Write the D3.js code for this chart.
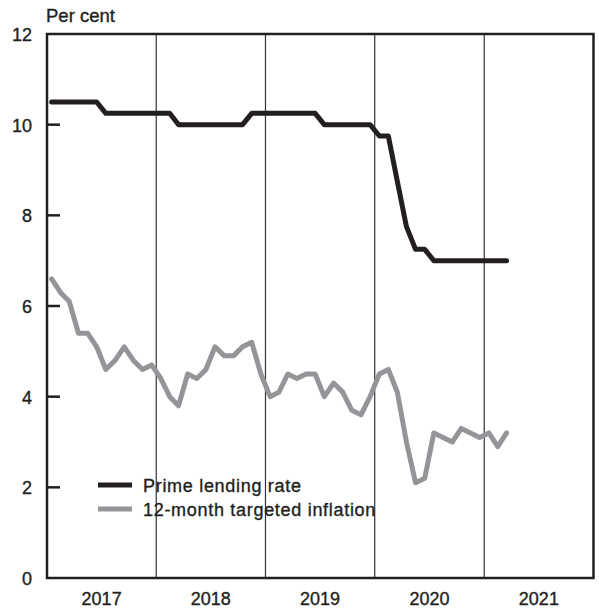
<!DOCTYPE html>
<html>
<head>
<meta charset="utf-8">
<script src="https://cdn.jsdelivr.net/npm/d3@7"></script>
<style>
  body { margin: 0; background: #fff; }
  text { font-family: "Liberation Sans", Arial, sans-serif; fill: #231f20; stroke: #231f20; stroke-width: 0.35px; }
</style>
</head>
<body>
<div id="graphic"></div>
<script>
// monthly values, Jan 2017 - Mar 2021
var startMonth = "2017-01";
var primeRate = [
  10.5, 10.5, 10.5, 10.5, 10.5, 10.5, 10.25, 10.25, 10.25, 10.25, 10.25, 10.25,
  10.25, 10.25, 10.0, 10.0, 10.0, 10.0, 10.0, 10.0, 10.0, 10.0, 10.25, 10.25,
  10.25, 10.25, 10.25, 10.25, 10.25, 10.25, 10.0, 10.0, 10.0, 10.0, 10.0, 10.0,
  9.75, 9.75, 8.75, 7.75, 7.25, 7.25, 7.0, 7.0, 7.0, 7.0, 7.0, 7.0,
  7.0, 7.0, 7.0
];
var inflation = [
  6.6, 6.3, 6.1, 5.4, 5.4, 5.1, 4.6, 4.8, 5.1, 4.8, 4.6, 4.7,
  4.4, 4.0, 3.8, 4.5, 4.4, 4.6, 5.1, 4.9, 4.9, 5.1, 5.2, 4.5,
  4.0, 4.1, 4.5, 4.4, 4.5, 4.5, 4.0, 4.3, 4.1, 3.7, 3.6, 4.0,
  4.5, 4.6, 4.1, 3.0, 2.1, 2.2, 3.2, 3.1, 3.0, 3.3, 3.2, 3.1,
  3.2, 2.9, 3.2
];
var years = [2017, 2018, 2019, 2020, 2021];
var yTicks = [0, 2, 4, 6, 8, 10, 12];
var seriesNames = ["Prime lending rate", "12-month targeted inflation"];
var seriesColors = ["#231f20", "#939598"];

var w = 599, h = 610;
var pLeft = 47, pRight = 593.5, pTop = 34, pBottom = 578;
var ink = "#231f20";

var svg = d3.select("#graphic")
    .append("svg")
    .attr("width", w)
    .attr("height", h);

var x0 = new Date(years[0], 0, 1), x1 = new Date(years[years.length - 1] + 1, 0, 1);
var xScale = d3.scaleTime().domain([x0, x1]).range([pLeft, pRight]);
var yScale = d3.scaleLinear().domain([0, 12]).range([pBottom, pTop]);

function monthDate(i) {
    var y0 = +startMonth.slice(0, 4), m0 = +startMonth.slice(5) - 1;
    var a = new Date(y0, m0 + i, 1), b = new Date(y0, m0 + i + 1, 1);
    return new Date((a.getTime() + b.getTime()) / 2);
}

// year separators
svg.append("g")
   .selectAll("line")
   .data(years.slice(1))
   .enter()
   .append("line")
   .attr("x1", function(d){ return xScale(new Date(d, 0, 1)); })
   .attr("x2", function(d){ return xScale(new Date(d, 0, 1)); })
   .attr("y1", pTop)
   .attr("y2", pBottom)
   .attr("stroke", "#333")
   .attr("stroke-width", 1.2);

// left ticks pointing inward
svg.append("g")
   .selectAll("line")
   .data(yTicks.filter(function(d){ return d > 0 && d < 12; }))
   .enter()
   .append("line")
   .attr("x1", pLeft)
   .attr("x2", pLeft + 13)
   .attr("y1", function(d){ return yScale(d); })
   .attr("y2", function(d){ return yScale(d); })
   .attr("stroke", ink)
   .attr("stroke-width", 2.5);

// series
var line = d3.line()
    .x(function(d, i){ return xScale(monthDate(i)); })
    .y(function(d){ return yScale(d); });

[inflation, primeRate].forEach(function(s, k){
    svg.append("path")
       .datum(s)
       .attr("d", line)
       .attr("fill", "none")
       .attr("stroke", seriesColors[1 - k])
       .attr("stroke-width", 5)
       .attr("stroke-linejoin", "round")
       .attr("stroke-linecap", "round");
});

// frame
svg.append("rect")
   .attr("x", pLeft)
   .attr("y", pTop)
   .attr("width", pRight - pLeft)
   .attr("height", pBottom - pTop)
   .attr("fill", "none")
   .attr("stroke", ink)
   .attr("stroke-width", 2.5);

// y labels
svg.append("g")
   .selectAll("text")
   .data(yTicks)
   .enter()
   .append("text")
   .attr("x", 32)
   .attr("y", function(d){ return yScale(d) + 7; })
   .attr("text-anchor", "end")
   .attr("font-size", 18)
   .text(function(d){ return d; });

svg.append("text")
   .attr("x", 46)
   .attr("y", 22)
   .attr("font-size", 18.5)
   .text("Per cent");

// x labels
svg.append("g")
   .selectAll("text")
   .data(years)
   .enter()
   .append("text")
   .attr("x", function(d){ return (xScale(new Date(d, 0, 1)) + xScale(new Date(d + 1, 0, 1))) / 2; })
   .attr("y", 605)
   .attr("text-anchor", "middle")
   .attr("font-size", 18)
   .text(function(d){ return d; });

// legend
var legend = svg.append("g")
    .selectAll("g")
    .data(seriesNames)
    .enter()
    .append("g")
    .attr("transform", function(d, i){ return "translate(98," + (485 + i * 24) + ")"; });
legend.append("line")
    .attr("x1", 0).attr("x2", 34)
    .attr("stroke", function(d, i){ return seriesColors[i]; })
    .attr("stroke-width", 5);
legend.append("text")
    .attr("x", 45)
    .attr("y", 6.5)
    .attr("font-size", 18)
    .attr("letter-spacing", 0.7)
    .text(function(d){ return d; });
</script>
</body>
</html>
